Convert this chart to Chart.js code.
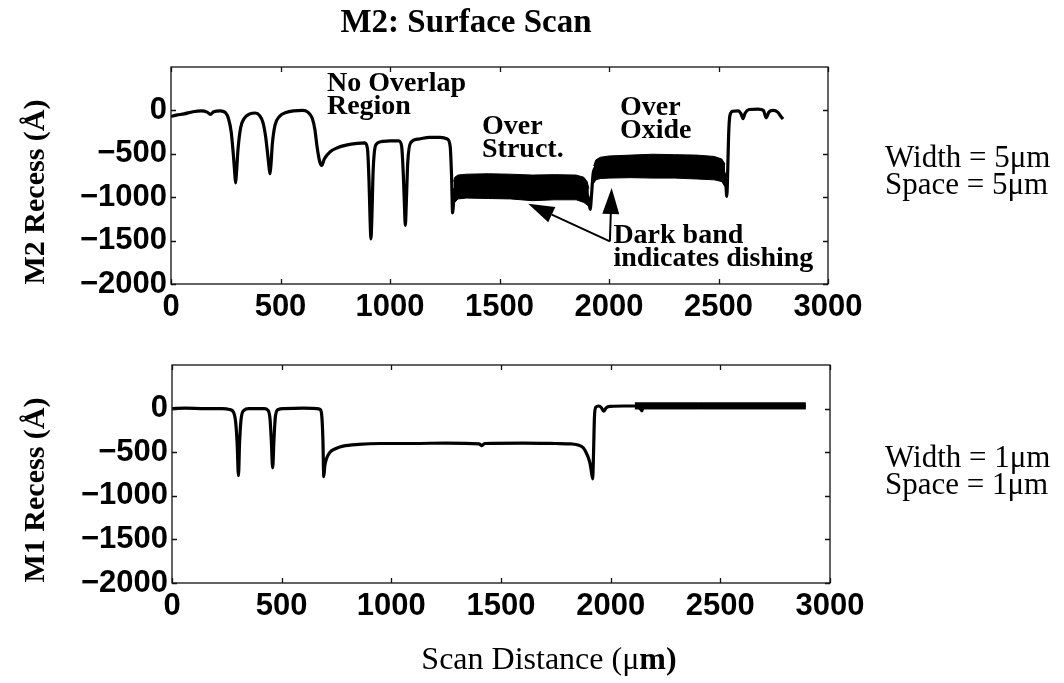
<!DOCTYPE html>
<html>
<head>
<meta charset="utf-8">
<title>M2: Surface Scan</title>
<script src="https://cdn.jsdelivr.net/npm/chart.js@4.4.1/dist/chart.umd.min.js"></script>
<style>
  html, body { margin: 0; padding: 0; background: #ffffff; }
  #wrap { position: relative; width: 1064px; height: 683px; overflow: hidden; }
  canvas { position: absolute; left: 0; }
  #m2 { top: 0; }
  #m1 { top: 340px; }
</style>
</head>
<body>
<div id="wrap">
  <canvas id="m2" width="1064" height="340"></canvas>
  <canvas id="m1" width="1064" height="343"></canvas>
</div>
<script>
// ---- axis ticks ----
const xTickValues = [0, 500, 1000, 1500, 2000, 2500, 3000];
const yTickValues = [-2000, -1500, -1000, -500, 0];

// ---- M2 (5 µm width / 5 µm space) recess profile, Å vs µm ----
const m2ScanX = [0, 25, 60, 100, 140, 165, 180, 195, 225, 250, 262, 275, 285, 291, 295, 299, 306, 318, 335, 360,
  385, 405, 420, 432, 442, 448, 452, 456, 463, 475, 495, 525, 560, 600, 625, 645, 657, 667, 678, 688,
  700, 725, 760, 800, 850, 885, 897, 904, 909, 913, 917, 923, 935, 960, 1000, 1040, 1053, 1061, 1066, 1070,
  1074, 1081, 1095, 1130, 1180, 1230, 1262, 1275, 1281, 1286, 1292, 1300, 1350, 1450, 1550, 1650, 1750, 1850, 1890, 1903,
  1910, 1914, 1920, 1928, 1940, 1970, 2050, 2150, 2250, 2350, 2450, 2500, 2525, 2533, 2538, 2542, 2546, 2552, 2565, 2590,
  2603, 2612, 2622, 2640, 2680, 2705, 2718, 2730, 2750, 2770, 2785, 2795];
const m2RecessY = [-70, -55, -40, -15, -5, -20, -45, -15, -5, -30, -90, -250, -520, -720, -835, -720, -450, -200, -90, -40,
  -30, -60, -140, -300, -520, -660, -730, -640, -380, -170, -70, -25, -5, 0, -20, -90, -220, -420, -580, -635,
  -560, -480, -430, -400, -380, -375, -440, -800, -1250, -1480, -1250, -700, -400, -360, -350, -350, -410, -750, -1100, -1325,
  -1100, -600, -370, -330, -310, -310, -330, -420, -750, -1180, -960, -900, -880, -870, -880, -890, -885, -890, -930, -990,
  -1080, -1140, -980, -720, -660, -650, -645, -640, -640, -640, -650, -670, -720, -830, -990, -700, -300, -60, -10, -5,
  -40, -95, -30, 10, 15, 0, -85, -20, 0, -20, -70, -100];

// dark (dishing) band over the structure
const m2StructBandX = [1290, 1296, 1310, 1350, 1450, 1550, 1650, 1750, 1850, 1885, 1900, 1908];
const m2StructBandTop = [-820, -770, -745, -735, -730, -735, -745, -740, -745, -770, -820, -900];
const m2StructBandBottom = [-1120, -1060, -1020, -1010, -1015, -1020, -1040, -1030, -1030, -1060, -1090, -1110];

// dark (dishing) band over oxide
const m2OxideBandX = [1930, 1940, 1960, 2000, 2100, 2200, 2300, 2400, 2480, 2515, 2530];
const m2OxideBandTop = [-640, -570, -540, -525, -515, -505, -510, -515, -530, -560, -620];
const m2OxideBandBottom = [-840, -800, -785, -780, -775, -780, -780, -790, -800, -820, -880];

// ---- M1 (1 µm width / 1 µm space) recess profile ----
const m1ScanX = [0, 60, 150, 230, 262, 280, 290, 297, 303, 308, 315, 328, 350, 420, 438, 447, 453, 459, 465, 472,
  485, 510, 600, 660, 675, 682, 688, 692, 697, 705, 720, 745, 780, 850, 950, 1100, 1250, 1400, 1413, 1425,
  1600, 1750, 1820, 1855, 1875, 1893, 1905, 1912, 1918, 1922, 1926, 1932, 1945, 1958, 1968, 1980, 2000, 2060, 2110, 2135,
  2142, 2150, 2200, 2890];
const m1RecessY = [0, 5, 0, 0, -10, -40, -150, -400, -770, -400, -120, -20, 0, 0, -20, -120, -380, -680, -350, -80,
  -10, 0, 5, 0, -10, -60, -350, -780, -650, -570, -500, -460, -430, -410, -400, -400, -395, -405, -425, -400,
  -395, -400, -405, -420, -450, -530, -620, -720, -805, -500, -100, 15, 30, 10, -30, 10, 25, 30, 30, 0,
  -25, 20, 30, 30];
const m1BandX = [2110, 2400, 2890];
const m1BandTop = [66, 66, 66];
const m1BandBottom = [-4, -4, -4];

// ---- text ----
const mainTitle = 'M2: Surface Scan';
const m2AxisTitle = 'M2 Recess (Å)';
const m1AxisTitle = 'M1 Recess (Å)';
const m2SideLabels = ['Width = 5μm', 'Space = 5μm'];
const m1SideLabels = ['Width = 1μm', 'Space = 1μm'];

const SERIF = '"Liberation Serif", "Times New Roman", serif';
const SANS = '"Liberation Sans", Arial, sans-serif';

const pairs = (xs, ys) => xs.map((x, i) => ({ x, y: ys[i] }));
const fmtTick = v => (v < 0 ? '\u2212' + Math.abs(v) : String(v));

function traceDataset(xs, ys) {
  return {
    data: pairs(xs, ys), borderColor: '#000', borderWidth: 3.2, pointRadius: 0,
    cubicInterpolationMode: 'monotone', fill: false, order: 1
  };
}
function bandDatasets(xs, top, bottom) {
  return [
    { data: pairs(xs, top), borderColor: '#000', borderWidth: 1, pointRadius: 0,
      backgroundColor: '#000', fill: '+1', order: 2 },
    { data: pairs(xs, bottom), borderColor: '#000', borderWidth: 1, pointRadius: 0,
      fill: false, order: 2 }
  ];
}

// box frame with inward tick marks on all four sides
const framePlugin = {
  id: 'frame',
  afterDatasetsDraw(chart) {
    const { ctx, chartArea: a, scales: { x, y } } = chart;
    ctx.save();
    ctx.strokeStyle = '#111';
    ctx.lineWidth = 1.3;
    ctx.strokeRect(a.left, a.top, a.right - a.left, a.bottom - a.top);
    ctx.beginPath();
    x.ticks.forEach(t => {
      const p = Math.round(x.getPixelForValue(t.value)) + 0.5;
      ctx.moveTo(p, a.bottom); ctx.lineTo(p, a.bottom - 5);
      ctx.moveTo(p, a.top); ctx.lineTo(p, a.top + 5);
    });
    y.ticks.forEach(t => {
      const p = Math.round(y.getPixelForValue(t.value)) + 0.5;
      ctx.moveTo(a.left, p); ctx.lineTo(a.left + 5, p);
      ctx.moveTo(a.right, p); ctx.lineTo(a.right - 5, p);
    });
    ctx.stroke();
    ctx.restore();
  }
};

function drawArrow(ctx, x0, y0, x1, y1) {
  const ang = Math.atan2(y1 - y0, x1 - x0);
  const len = 26, half = 8.5;
  const bx = x1 - len * Math.cos(ang), by = y1 - len * Math.sin(ang);
  ctx.beginPath();
  ctx.moveTo(x0, y0); ctx.lineTo(bx, by);
  ctx.lineWidth = 2; ctx.strokeStyle = '#000'; ctx.stroke();
  ctx.beginPath();
  ctx.moveTo(x1, y1);
  ctx.lineTo(bx + half * Math.sin(ang), by - half * Math.cos(ang));
  ctx.lineTo(bx - half * Math.sin(ang), by + half * Math.cos(ang));
  ctx.closePath(); ctx.fillStyle = '#000'; ctx.fill();
}

function drawYTitle(ctx, text, baselineX, centerY) {
  ctx.save();
  ctx.translate(baselineX, centerY);
  ctx.rotate(-Math.PI / 2);
  ctx.font = 'bold 30px ' + SERIF;
  ctx.textAlign = 'center';
  ctx.textBaseline = 'alphabetic';
  ctx.fillStyle = '#000';
  ctx.fillText(text, 0, 0);
  ctx.restore();
}

function drawSide(ctx, lines, x, y0, step) {
  ctx.save();
  ctx.font = '31px ' + SERIF;
  ctx.fillStyle = '#000';
  ctx.textAlign = 'left';
  ctx.textBaseline = 'alphabetic';
  lines.forEach((s, i) => ctx.fillText(s, x, y0 + i * step));
  ctx.restore();
}

// annotation text placed in data units
const m2Notes = [
  { lines: ['No Overlap', 'Region'], x: 712, y: 227 },
  { lines: ['Over', 'Struct.'], x: 1420, y: -268 },
  { lines: ['Over', 'Oxide'], x: 2050, y: -50 },
  { lines: ['Dark band', 'indicates dishing'], x: 2020, y: -1524 }
];
// arrows: shared tail, tips on the two dark bands
const arrowTail = { x: 2004, y: -1509 };
const arrowTips = [{ x: 1631, y: -1075 }, { x: 2012, y: -894 }];

const m2Text = {
  id: 'm2Text',
  afterDraw(chart) {
    const { ctx, scales: { x, y } } = chart;
    ctx.save();
    ctx.fillStyle = '#000';
    ctx.font = 'bold 33px ' + SERIF;
    ctx.textAlign = 'center';
    ctx.textBaseline = 'alphabetic';
    ctx.fillText(mainTitle, 466, 32);

    ctx.font = 'bold 28px ' + SERIF;
    ctx.textAlign = 'left';
    m2Notes.forEach(n => {
      const px = x.getPixelForValue(n.x), py = y.getPixelForValue(n.y);
      n.lines.forEach((s, i) => ctx.fillText(s, px, py + i * 23.5));
    });
    const tx = x.getPixelForValue(arrowTail.x), ty = y.getPixelForValue(arrowTail.y);
    arrowTips.forEach(t => drawArrow(ctx, tx, ty, x.getPixelForValue(t.x), y.getPixelForValue(t.y)));
    ctx.restore();

    drawYTitle(ctx, m2AxisTitle, 44, 192);
    drawSide(ctx, m2SideLabels, 885, 167, 27);
  }
};

const m1Text = {
  id: 'm1Text',
  afterDraw(chart) {
    const { ctx } = chart;
    drawYTitle(ctx, m1AxisTitle, 44, 150);
    drawSide(ctx, m1SideLabels, 885, 127, 27);
    // x-axis title: "Scan Distance (μ" regular, "m)" bold
    ctx.save();
    ctx.fillStyle = '#000';
    ctx.textBaseline = 'alphabetic';
    ctx.textAlign = 'left';
    const partA = 'Scan Distance (\u03bc', partB = 'm)';
    ctx.font = '32px ' + SERIF;
    const wA = ctx.measureText(partA).width;
    ctx.font = 'bold 32px ' + SERIF;
    const wB = ctx.measureText(partB).width;
    const x0 = 549 - (wA + wB) / 2, yb = 329;
    ctx.font = '32px ' + SERIF;
    ctx.fillText(partA, x0, yb);
    ctx.font = 'bold 32px ' + SERIF;
    ctx.fillText(partB, x0 + wA, yb);
    ctx.restore();
  }
};

function makeOptions(yWidth, xHeight, padTop, padRight) {
  return {
    responsive: false,
    animation: false,
    devicePixelRatio: 1,
    layout: { padding: { left: 0, top: padTop, right: padRight, bottom: 0 } },
    plugins: { legend: { display: false }, title: { display: false }, tooltip: { enabled: false } },
    scales: {
      x: {
        type: 'linear', min: 0, max: 3000,
        afterBuildTicks: s => { s.ticks = xTickValues.map(v => ({ value: v })); },
        afterFit: s => { s.height = xHeight; },
        grid: { display: false, drawTicks: false },
        border: { display: false },
        ticks: { color: '#000', padding: 5, maxRotation: 0, autoSkip: false,
          font: { family: SANS, size: 31, weight: 'bold' }, callback: v => fmtTick(v) }
      },
      y: {
        type: 'linear', min: -2000, max: 500,
        afterBuildTicks: s => { s.ticks = yTickValues.map(v => ({ value: v })); },
        afterFit: s => { s.width = yWidth; },
        grid: { display: false, drawTicks: false },
        border: { display: false },
        ticks: { color: '#000', padding: 4, autoSkip: false,
          font: { family: SANS, size: 31, weight: 'bold' }, callback: v => fmtTick(v) }
      }
    }
  };
}

new Chart(document.getElementById('m2'), {
  type: 'line',
  data: {
    datasets: [
      traceDataset(m2ScanX, m2RecessY),
      ...bandDatasets(m2StructBandX, m2StructBandTop, m2StructBandBottom),
      ...bandDatasets(m2OxideBandX, m2OxideBandTop, m2OxideBandBottom)
    ]
  },
  options: makeOptions(171, 56, 67, 236),
  plugins: [framePlugin, m2Text]
});

new Chart(document.getElementById('m1'), {
  type: 'line',
  data: {
    datasets: [
      traceDataset(m1ScanX, m1RecessY),
      ...bandDatasets(m1BandX, m1BandTop, m1BandBottom)
    ]
  },
  options: makeOptions(172, 100, 25, 234),
  plugins: [framePlugin, m1Text]
});
</script>
</body>
</html>
